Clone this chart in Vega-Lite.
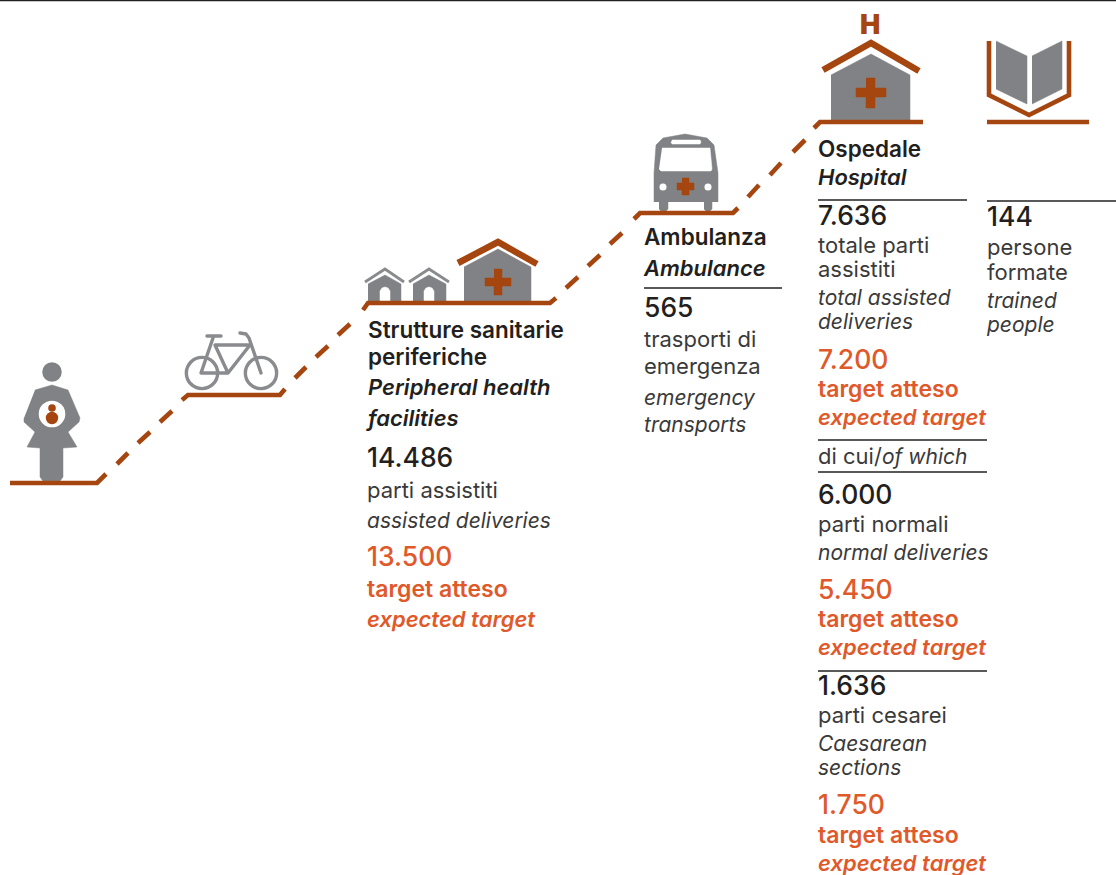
{
"$schema":"https://vega.github.io/schema/vega-lite/v6.json",
"width":1116,"height":875,"padding":0,"autosize":{"type":"none"},
"background":"#ffffff",
"view":{"stroke":null},
"config":{"text":{"font":"Inter","align":"left","baseline":"alphabetic"}},
"datasets":{
"fills":[
{"id":"body","kind":"grey","o":0,"x":35,"y":390},{"id":"body","kind":"grey","o":1,"x":52,"y":385},{"id":"body","kind":"grey","o":2,"x":68,"y":390},{"id":"body","kind":"grey","o":3,"x":80,"y":418},{"id":"body","kind":"grey","o":4,"x":79,"y":422},{"id":"body","kind":"grey","o":5,"x":68,"y":432},{"id":"body","kind":"grey","o":6,"x":77,"y":447},{"id":"body","kind":"grey","o":7,"x":63,"y":448},{"id":"body","kind":"grey","o":8,"x":63,"y":477},{"id":"body","kind":"grey","o":9,"x":60,"y":481},{"id":"body","kind":"grey","o":10,"x":43,"y":481},{"id":"body","kind":"grey","o":11,"x":40,"y":477},{"id":"body","kind":"grey","o":12,"x":40,"y":448},{"id":"body","kind":"grey","o":13,"x":27,"y":447},{"id":"body","kind":"grey","o":14,"x":35,"y":432},{"id":"body","kind":"grey","o":15,"x":24,"y":422},{"id":"body","kind":"grey","o":16,"x":24,"y":418},
{"id":"h1","kind":"grey","o":0,"x":464,"y":267},{"id":"h1","kind":"grey","o":1,"x":498,"y":249},{"id":"h1","kind":"grey","o":2,"x":531,"y":267},{"id":"h1","kind":"grey","o":3,"x":531,"y":302},{"id":"h1","kind":"grey","o":4,"x":464,"y":302},
{"id":"h2","kind":"grey","o":0,"x":368,"y":284},{"id":"h2","kind":"grey","o":1,"x":385,"y":275},{"id":"h2","kind":"grey","o":2,"x":401,"y":284},{"id":"h2","kind":"grey","o":3,"x":401,"y":302},{"id":"h2","kind":"grey","o":4,"x":368,"y":302},
{"id":"h3","kind":"grey","o":0,"x":413,"y":284},{"id":"h3","kind":"grey","o":1,"x":429,"y":275},{"id":"h3","kind":"grey","o":2,"x":446,"y":284},{"id":"h3","kind":"grey","o":3,"x":446,"y":302},{"id":"h3","kind":"grey","o":4,"x":413,"y":302},
{"id":"bus","kind":"grey","o":0,"x":654,"y":202},{"id":"bus","kind":"grey","o":1,"x":654,"y":173},{"id":"bus","kind":"grey","o":2,"x":656,"y":145},{"id":"bus","kind":"grey","o":3,"x":663,"y":138},{"id":"bus","kind":"grey","o":4,"x":685,"y":134},{"id":"bus","kind":"grey","o":5,"x":707,"y":138},{"id":"bus","kind":"grey","o":6,"x":714,"y":145},{"id":"bus","kind":"grey","o":7,"x":718,"y":173},{"id":"bus","kind":"grey","o":8,"x":718,"y":202},
{"id":"w1","kind":"grey","o":0,"x":659,"y":200},{"id":"w1","kind":"grey","o":1,"x":668,"y":200},{"id":"w1","kind":"grey","o":2,"x":668,"y":209},{"id":"w1","kind":"grey","o":3,"x":666,"y":211},{"id":"w1","kind":"grey","o":4,"x":661,"y":211},{"id":"w1","kind":"grey","o":5,"x":659,"y":209},
{"id":"w2","kind":"grey","o":0,"x":704,"y":200},{"id":"w2","kind":"grey","o":1,"x":712,"y":200},{"id":"w2","kind":"grey","o":2,"x":712,"y":209},{"id":"w2","kind":"grey","o":3,"x":710,"y":211},{"id":"w2","kind":"grey","o":4,"x":706,"y":211},{"id":"w2","kind":"grey","o":5,"x":704,"y":209},
{"id":"hosp","kind":"grey","o":0,"x":831,"y":75},{"id":"hosp","kind":"grey","o":1,"x":871,"y":54},{"id":"hosp","kind":"grey","o":2,"x":910,"y":75},{"id":"hosp","kind":"grey","o":3,"x":910,"y":120},{"id":"hosp","kind":"grey","o":4,"x":831,"y":120},
{"id":"bl","kind":"grey","o":0,"x":996,"y":41},{"id":"bl","kind":"grey","o":1,"x":1027,"y":56},{"id":"bl","kind":"grey","o":2,"x":1027,"y":104},{"id":"bl","kind":"grey","o":3,"x":996,"y":89},
{"id":"br","kind":"grey","o":0,"x":1032,"y":56},{"id":"br","kind":"grey","o":1,"x":1062,"y":41},{"id":"br","kind":"grey","o":2,"x":1062,"y":89},{"id":"br","kind":"grey","o":3,"x":1032,"y":104},
{"id":"d1","kind":"white","o":0,"x":380,"y":302},{"id":"d1","kind":"white","o":1,"x":380,"y":291},{"id":"d1","kind":"white","o":2,"x":382,"y":288},{"id":"d1","kind":"white","o":3,"x":385,"y":287},{"id":"d1","kind":"white","o":4,"x":388,"y":288},{"id":"d1","kind":"white","o":5,"x":390,"y":291},{"id":"d1","kind":"white","o":6,"x":390,"y":302},
{"id":"d2","kind":"white","o":0,"x":424,"y":302},{"id":"d2","kind":"white","o":1,"x":424,"y":291},{"id":"d2","kind":"white","o":2,"x":426,"y":288},{"id":"d2","kind":"white","o":3,"x":429,"y":287},{"id":"d2","kind":"white","o":4,"x":432,"y":288},{"id":"d2","kind":"white","o":5,"x":434,"y":291},{"id":"d2","kind":"white","o":6,"x":434,"y":302},
{"id":"win","kind":"white","o":0,"x":662,"y":148},{"id":"win","kind":"white","o":1,"x":710,"y":148},{"id":"win","kind":"white","o":2,"x":712,"y":169},{"id":"win","kind":"white","o":3,"x":711,"y":171},{"id":"win","kind":"white","o":4,"x":661,"y":171},{"id":"win","kind":"white","o":5,"x":659,"y":169},
{"id":"slot","kind":"white","o":0,"x":672,"y":140},{"id":"slot","kind":"white","o":1,"x":700,"y":140},{"id":"slot","kind":"white","o":2,"x":701,"y":142},{"id":"slot","kind":"white","o":3,"x":700,"y":144},{"id":"slot","kind":"white","o":4,"x":672,"y":144},{"id":"slot","kind":"white","o":5,"x":671,"y":142},
{"id":"c1","kind":"rust","o":0,"x":494,"y":269},{"id":"c1","kind":"rust","o":1,"x":502,"y":269},{"id":"c1","kind":"rust","o":2,"x":502,"y":278},{"id":"c1","kind":"rust","o":3,"x":511,"y":278},{"id":"c1","kind":"rust","o":4,"x":511,"y":286},{"id":"c1","kind":"rust","o":5,"x":502,"y":286},{"id":"c1","kind":"rust","o":6,"x":502,"y":295},{"id":"c1","kind":"rust","o":7,"x":494,"y":295},{"id":"c1","kind":"rust","o":8,"x":494,"y":286},{"id":"c1","kind":"rust","o":9,"x":485,"y":286},{"id":"c1","kind":"rust","o":10,"x":485,"y":278},{"id":"c1","kind":"rust","o":11,"x":494,"y":278},
{"id":"c2","kind":"rust","o":0,"x":682,"y":178},{"id":"c2","kind":"rust","o":1,"x":689,"y":178},{"id":"c2","kind":"rust","o":2,"x":689,"y":183},{"id":"c2","kind":"rust","o":3,"x":694,"y":183},{"id":"c2","kind":"rust","o":4,"x":694,"y":190},{"id":"c2","kind":"rust","o":5,"x":689,"y":190},{"id":"c2","kind":"rust","o":6,"x":689,"y":195},{"id":"c2","kind":"rust","o":7,"x":682,"y":195},{"id":"c2","kind":"rust","o":8,"x":682,"y":190},{"id":"c2","kind":"rust","o":9,"x":677,"y":190},{"id":"c2","kind":"rust","o":10,"x":677,"y":183},{"id":"c2","kind":"rust","o":11,"x":682,"y":183},
{"id":"c3","kind":"rust","o":0,"x":866,"y":78},{"id":"c3","kind":"rust","o":1,"x":875,"y":78},{"id":"c3","kind":"rust","o":2,"x":875,"y":88},{"id":"c3","kind":"rust","o":3,"x":886,"y":88},{"id":"c3","kind":"rust","o":4,"x":886,"y":97},{"id":"c3","kind":"rust","o":5,"x":875,"y":97},{"id":"c3","kind":"rust","o":6,"x":875,"y":108},{"id":"c3","kind":"rust","o":7,"x":866,"y":108},{"id":"c3","kind":"rust","o":8,"x":866,"y":97},{"id":"c3","kind":"rust","o":9,"x":856,"y":97},{"id":"c3","kind":"rust","o":10,"x":856,"y":88},{"id":"c3","kind":"rust","o":11,"x":866,"y":88}
],
"path":[
{"id":"a","o":0,"x":10,"y":483},{"id":"a","o":1,"x":97,"y":483},{"id":"a","o":2,"x":106,"y":474},
{"id":"b","o":0,"x":117,"y":464},{"id":"b","o":1,"x":128,"y":453},
{"id":"c","o":0,"x":138,"y":443},{"id":"c","o":1,"x":150,"y":432},
{"id":"d","o":0,"x":160,"y":422},{"id":"d","o":1,"x":172,"y":411},
{"id":"e","o":0,"x":182,"y":400},{"id":"e","o":1,"x":188,"y":395},{"id":"e","o":2,"x":280,"y":395},{"id":"e","o":3,"x":285,"y":389},
{"id":"f","o":0,"x":295,"y":378},{"id":"f","o":1,"x":306,"y":367},
{"id":"g","o":0,"x":316,"y":357},{"id":"g","o":1,"x":328,"y":346},
{"id":"i","o":0,"x":338,"y":335},{"id":"i","o":1,"x":350,"y":324},
{"id":"j","o":0,"x":363,"y":310},{"id":"j","o":1,"x":368,"y":303},{"id":"j","o":2,"x":550,"y":303},{"id":"j","o":3,"x":556,"y":298},
{"id":"k","o":0,"x":566,"y":288},{"id":"k","o":1,"x":578,"y":277},
{"id":"l","o":0,"x":588,"y":266},{"id":"l","o":1,"x":600,"y":255},
{"id":"m","o":0,"x":610,"y":244},{"id":"m","o":1,"x":622,"y":233},
{"id":"n","o":0,"x":634,"y":219},{"id":"n","o":1,"x":640,"y":213},{"id":"n","o":2,"x":733,"y":213},{"id":"n","o":3,"x":738,"y":208},
{"id":"p","o":0,"x":748,"y":197},{"id":"p","o":1,"x":759,"y":185},
{"id":"q","o":0,"x":770,"y":175},{"id":"q","o":1,"x":781,"y":163},
{"id":"r","o":0,"x":793,"y":152},{"id":"r","o":1,"x":805,"y":140},
{"id":"s","o":0,"x":814,"y":128},{"id":"s","o":1,"x":820,"y":122},{"id":"s","o":2,"x":923,"y":122},
{"id":"t","o":0,"x":987,"y":122},{"id":"t","o":1,"x":1089,"y":122},
{"id":"book","o":0,"x":989,"y":41},{"id":"book","o":1,"x":989,"y":95},{"id":"book","o":2,"x":1029,"y":115},{"id":"book","o":3,"x":1069,"y":95},{"id":"book","o":4,"x":1069,"y":41}
],
"hospRoof":[
{"id":"roof1","o":0,"x":458,"y":263},{"id":"roof1","o":1,"x":498,"y":242},{"id":"roof1","o":2,"x":537,"y":264},
{"id":"roof3","o":0,"x":823,"y":70},{"id":"roof3","o":1,"x":871,"y":43},{"id":"roof3","o":2,"x":919,"y":71}
],
"greyLines":[
{"id":"r2","o":0,"x":365,"y":282},{"id":"r2","o":1,"x":385,"y":269},{"id":"r2","o":2,"x":404,"y":282},
{"id":"r3","o":0,"x":409,"y":282},{"id":"r3","o":1,"x":429,"y":269},{"id":"r3","o":2,"x":449,"y":282},
{"id":"seat","o":0,"x":207,"y":336},{"id":"seat","o":1,"x":221,"y":336},
{"id":"frame","o":0,"x":213,"y":338},{"id":"frame","o":1,"x":201,"y":373},{"id":"frame","o":2,"x":228,"y":373},{"id":"frame","o":3,"x":250,"y":345},{"id":"frame","o":4,"x":215,"y":345},{"id":"frame","o":5,"x":228,"y":373},
{"id":"fork","o":0,"x":240,"y":333},{"id":"fork","o":1,"x":246,"y":334},{"id":"fork","o":2,"x":249,"y":338},{"id":"fork","o":3,"x":261,"y":373}
],
"rules":[
{"id":"top","x":0,"x2":1116,"y":0.5},
{"id":"a","x":644,"x2":782,"y":288},
{"id":"b","x":818,"x2":967,"y":200},
{"id":"c","x":987,"x2":1116,"y":201},
{"id":"d","x":818,"x2":987,"y":440},
{"id":"e","x":818,"x2":987,"y":472},
{"id":"f","x":818,"x2":987,"y":671}
],
"wheels":[{"name":"rear","x":202,"y":373},{"name":"front","x":261,"y":373}],
"heads":[{"name":"head","x":52,"y":372}],
"whiteBig":[{"name":"belly","x":52,"y":414}],
"whiteSmall":[{"name":"l","x":663,"y":187},{"name":"r","x":708,"y":187}],
"babyHead":[{"name":"baby head","x":52,"y":408}],
"babyBody":[{"name":"baby body","x":52,"y":418}],
"texts":[
{"t":"H","x":860,"y":34,"role":"icon"},
{"t":"Strutture sanitarie","x":368,"y":338,"role":"head"},
{"t":"periferiche","x":368,"y":365,"role":"head"},
{"t":"Peripheral health","x":368,"y":395,"role":"headIt"},
{"t":"facilities","x":368,"y":426,"role":"headIt"},
{"t":"14.486","x":367,"y":467,"role":"num"},
{"t":"parti assistiti","x":367,"y":498,"role":"body"},
{"t":"assisted deliveries","x":367,"y":528,"role":"bodyIt"},
{"t":"13.500","x":367,"y":566,"role":"tnum"},
{"t":"target atteso","x":367,"y":597,"role":"tlab"},
{"t":"expected target","x":367,"y":627,"role":"tlabIt"},
{"t":"Ambulanza","x":644,"y":245,"role":"head"},
{"t":"Ambulance","x":644,"y":276,"role":"headIt"},
{"t":"565","x":644,"y":317,"role":"num"},
{"t":"trasporti di","x":644,"y":347,"role":"body"},
{"t":"emergenza","x":644,"y":374,"role":"body"},
{"t":"emergency","x":644,"y":405,"role":"bodyIt"},
{"t":"transports","x":644,"y":432,"role":"bodyIt"},
{"t":"Ospedale","x":818,"y":157,"role":"head"},
{"t":"Hospital","x":818,"y":185,"role":"headIt"},
{"t":"7.636","x":818,"y":225,"role":"num"},
{"t":"totale parti","x":818,"y":253,"role":"body"},
{"t":"assistiti","x":818,"y":277,"role":"body"},
{"t":"total assisted","x":818,"y":305,"role":"bodyIt"},
{"t":"deliveries","x":818,"y":329,"role":"bodyIt"},
{"t":"7.200","x":818,"y":369,"role":"tnum"},
{"t":"target atteso","x":818,"y":397,"role":"tlab"},
{"t":"expected target","x":818,"y":425,"role":"tlabIt"},
{"t":"di cui/","x":818,"y":464,"role":"body"},
{"t":"of which","x":882,"y":464,"role":"bodyIt"},
{"t":"6.000","x":818,"y":504,"role":"num"},
{"t":"parti normali","x":818,"y":532,"role":"body"},
{"t":"normal deliveries","x":818,"y":560,"role":"bodyIt"},
{"t":"5.450","x":818,"y":599,"role":"tnum"},
{"t":"target atteso","x":818,"y":627,"role":"tlab"},
{"t":"expected target","x":818,"y":655,"role":"tlabIt"},
{"t":"1.636","x":818,"y":695,"role":"num"},
{"t":"parti cesarei","x":818,"y":723,"role":"body"},
{"t":"Caesarean","x":818,"y":751,"role":"bodyIt"},
{"t":"sections","x":818,"y":775,"role":"bodyIt"},
{"t":"1.750","x":818,"y":814,"role":"tnum"},
{"t":"target atteso","x":818,"y":843,"role":"tlab"},
{"t":"expected target","x":818,"y":871,"role":"tlabIt"},
{"t":"144","x":987,"y":226,"role":"num"},
{"t":"persone","x":987,"y":255,"role":"body"},
{"t":"formate","x":987,"y":280,"role":"body"},
{"t":"trained","x":987,"y":308,"role":"bodyIt"},
{"t":"people","x":987,"y":332,"role":"bodyIt"}
]
},
"encoding":{
"x":{"field":"x","type":"quantitative","scale":{"domain":[0,1116]},"axis":null},
"y":{"field":"y","type":"quantitative","scale":{"domain":[875,0]},"axis":null}
},
"layer":[
{"data":{"name":"heads"},"mark":{"type":"point","filled":true,"opacity":1,"color":"#808285","size":380}},
{"data":{"name":"fills"},"transform":[{"filter":"datum.kind==='grey'"}],"mark":{"type":"line","fill":"#808285","stroke":"#808285","strokeWidth":0.5},"encoding":{"detail":{"field":"id"},"order":{"field":"o","type":"quantitative"}}},
{"data":{"name":"whiteBig"},"mark":{"type":"point","filled":true,"opacity":1,"color":"#ffffff","size":707}},
{"data":{"name":"fills"},"transform":[{"filter":"datum.kind==='white'"}],"mark":{"type":"line","fill":"#ffffff","stroke":"#ffffff","strokeWidth":0.5},"encoding":{"detail":{"field":"id"},"order":{"field":"o","type":"quantitative"}}},
{"data":{"name":"whiteSmall"},"mark":{"type":"point","filled":true,"opacity":1,"color":"#ffffff","size":50}},
{"data":{"name":"fills"},"transform":[{"filter":"datum.kind==='rust'"}],"mark":{"type":"line","fill":"#A5450F","stroke":"#A5450F","strokeWidth":0.5},"encoding":{"detail":{"field":"id"},"order":{"field":"o","type":"quantitative"}}},
{"data":{"name":"babyHead"},"mark":{"type":"point","filled":true,"opacity":1,"color":"#A5450F","size":58}},
{"data":{"name":"babyBody"},"mark":{"type":"point","filled":true,"opacity":1,"color":"#A5450F","size":154}},
{"data":{"name":"wheels"},"mark":{"type":"point","filled":false,"opacity":1,"color":"#8A8B8E","strokeWidth":3.4,"size":980}},
{"data":{"name":"greyLines"},"transform":[{"filter":"datum.id==='r2'||datum.id==='r3'"}],"mark":{"type":"line","color":"#8A8B8E","strokeWidth":2.8},"encoding":{"detail":{"field":"id"},"order":{"field":"o","type":"quantitative"}}},
{"data":{"name":"greyLines"},"transform":[{"filter":"datum.id!=='r2'&&datum.id!=='r3'"}],"mark":{"type":"line","color":"#8A8B8E","strokeWidth":3.4,"strokeCap":"round","strokeJoin":"round"},"encoding":{"detail":{"field":"id"},"order":{"field":"o","type":"quantitative"}}},
{"data":{"name":"path"},"mark":{"type":"line","color":"#A5450F","strokeWidth":4.6},"encoding":{"detail":{"field":"id"},"order":{"field":"o","type":"quantitative"}}},
{"data":{"name":"hospRoof"},"mark":{"type":"line","color":"#A5450F","strokeWidth":6.5},"encoding":{"detail":{"field":"id"},"order":{"field":"o","type":"quantitative"}}},
{"data":{"name":"rules"},"mark":{"type":"rule","color":"#222222","strokeWidth":1.3},"encoding":{"x2":{"field":"x2"}}},
{"data":{"name":"texts"},"transform":[{"filter":"datum.role==='icon'"}],"mark":{"type":"text","fontSize":27,"fontWeight":900,"color":"#A5450F"},"encoding":{"text":{"field":"t"}}},
{"data":{"name":"texts"},"transform":[{"filter":"datum.role==='head'"}],"mark":{"type":"text","fontSize":22.5,"fontWeight":600,"color":"#231F20"},"encoding":{"text":{"field":"t"}}},
{"data":{"name":"texts"},"transform":[{"filter":"datum.role==='headIt'"}],"mark":{"type":"text","fontSize":22,"fontWeight":600,"fontStyle":"italic","color":"#231F20"},"encoding":{"text":{"field":"t"}}},
{"data":{"name":"texts"},"transform":[{"filter":"datum.role==='num'"}],"mark":{"type":"text","fontSize":26.5,"fontWeight":500,"color":"#231F20"},"encoding":{"text":{"field":"t"}}},
{"data":{"name":"texts"},"transform":[{"filter":"datum.role==='body'"}],"mark":{"type":"text","fontSize":22,"fontWeight":400,"color":"#3a3a3a"},"encoding":{"text":{"field":"t"}}},
{"data":{"name":"texts"},"transform":[{"filter":"datum.role==='bodyIt'"}],"mark":{"type":"text","fontSize":21,"fontWeight":400,"fontStyle":"italic","color":"#3a3a3a"},"encoding":{"text":{"field":"t"}}},
{"data":{"name":"texts"},"transform":[{"filter":"datum.role==='tnum'"}],"mark":{"type":"text","fontSize":26.5,"fontWeight":500,"color":"#E0592A"},"encoding":{"text":{"field":"t"}}},
{"data":{"name":"texts"},"transform":[{"filter":"datum.role==='tlab'"}],"mark":{"type":"text","fontSize":23,"fontWeight":600,"color":"#E0592A"},"encoding":{"text":{"field":"t"}}},
{"data":{"name":"texts"},"transform":[{"filter":"datum.role==='tlabIt'"}],"mark":{"type":"text","fontSize":22,"fontWeight":600,"fontStyle":"italic","color":"#E0592A"},"encoding":{"text":{"field":"t"}}}
]
}
